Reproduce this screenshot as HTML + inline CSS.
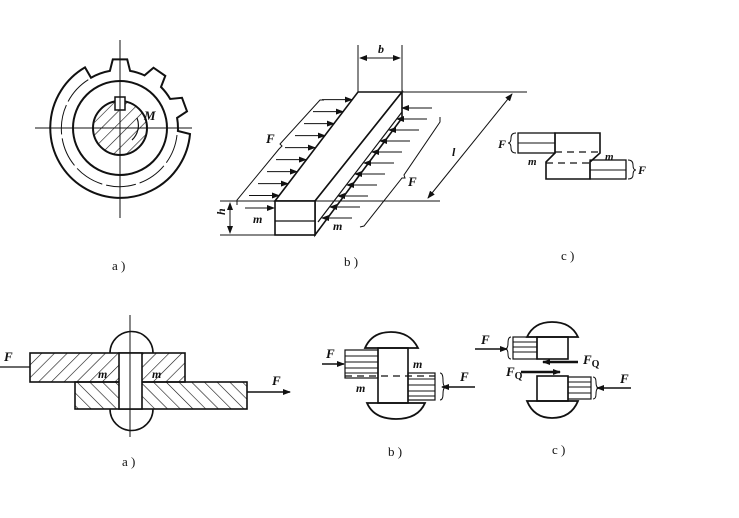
<!DOCTYPE html>
<html><head><meta charset="utf-8"><style>
html,body{margin:0;padding:0;background:#fff}
svg{display:block}
text{font-family:"Liberation Serif",serif;font-style:italic;font-weight:bold;fill:#111}
.c{font-style:normal;font-weight:normal;font-size:13px}
</style></head><body>
<svg width="739" height="518" viewBox="0 0 739 518" xmlns="http://www.w3.org/2000/svg">
<defs>
<pattern id="h1" width="9" height="9" patternUnits="userSpaceOnUse" patternTransform="rotate(45)"><line x1="0" y1="0" x2="0" y2="9" stroke="#111" stroke-width="1.2"/></pattern>
<pattern id="h2" width="9" height="9" patternUnits="userSpaceOnUse" patternTransform="rotate(-45)"><line x1="0" y1="0" x2="0" y2="9" stroke="#111" stroke-width="1.2"/></pattern>
<marker id="ar" markerWidth="8" markerHeight="6" refX="7" refY="3" orient="auto" markerUnits="userSpaceOnUse"><path d="M0,0 L8,3 L0,6z" fill="#111"/></marker>
<marker id="al" markerWidth="8" markerHeight="6" refX="1" refY="3" orient="auto" markerUnits="userSpaceOnUse"><path d="M8,0 L0,3 L8,6z" fill="#111"/></marker>
</defs>
<g stroke="#111" fill="none" stroke-width="1.6">
<!-- gear a) -->
<path d="M190,134 A70,70 0 1 1 85,67.4 L91,77.8 A58,58 0 0 1 109.9,70.9 L112.8,59.4 L127.2,59.4 L130.1,70.9 A58,58 0 0 1 144.5,75.4 L153.5,67.7 L165.3,75.9 L161,87 A58,58 0 0 1 170.2,99 L182,97.8 L187,111.3 L177.1,117.9 A58,58 0 0 1 177.9,131 Z" stroke-width="2"/>
<circle cx="120" cy="128" r="47" stroke-width="2"/>
<path d="M177,135 A58,58 0 1 1 93,77" stroke-width="1" stroke-dasharray="30 4"/>
<circle cx="120" cy="128" r="27" fill="url(#h1)" stroke-width="2"/>
<rect x="115" y="97" width="10" height="13" fill="#fff" stroke-width="1.5"/>
<line x1="35" y1="128" x2="192" y2="128" stroke-width="1"/>
<line x1="120" y1="40" x2="120" y2="218" stroke-width="1"/>
<path d="M137,118 A20,20 0 0 1 132,140" stroke-width="1.2"/>
</g>
<text x="144" y="120" font-size="13">M</text>
<text class="c" x="112" y="270">a )</text>

<g stroke="#111" fill="none" stroke-width="1.6">
<!-- key b) -->
<polygon points="275,201 315,201 402,92 358,92" fill="#fff"/>
<polygon points="315,201 315,235 402,118 402,92" fill="#fff"/>
<rect x="275" y="201" width="40" height="34" fill="#fff"/>
<line x1="275" y1="221" x2="315" y2="221" stroke-width="1.2"/>
<line x1="318" y1="222" x2="402" y2="112" stroke-width="1.2"/>
<line x1="220" y1="201" x2="440" y2="201" stroke-width="1"/>
<line x1="220" y1="235" x2="315" y2="235" stroke-width="1"/>
<line x1="402" y1="92" x2="527" y2="92" stroke-width="1"/>
<line x1="358" y1="92" x2="358" y2="45" stroke-width="1"/>
<line x1="402" y1="92" x2="402" y2="45" stroke-width="1"/>
<line x1="360" y1="58" x2="400" y2="58" stroke-width="1" marker-start="url(#al)" marker-end="url(#ar)"/>
<line x1="512" y1="94" x2="428" y2="198" stroke-width="1" marker-start="url(#al)" marker-end="url(#ar)"/>
<line x1="230" y1="203" x2="230" y2="233" stroke-width="1" marker-start="url(#al)" marker-end="url(#ar)"/>
<line x1="245" y1="208" x2="274" y2="208" stroke-width="1" marker-end="url(#ar)"/>
<!-- left arrows -->
<g stroke-width="1" marker-end="url(#ar)">
<line x1="249" y1="195.5" x2="279" y2="195.5"/>
<line x1="258" y1="183.6" x2="288" y2="183.6"/>
<line x1="267" y1="171.6" x2="297" y2="171.6"/>
<line x1="276" y1="159.6" x2="306" y2="159.6"/>
<line x1="285" y1="147.6" x2="315" y2="147.6"/>
<line x1="295" y1="135.6" x2="325" y2="135.6"/>
<line x1="304" y1="123.6" x2="334" y2="123.6"/>
<line x1="313" y1="111.6" x2="343" y2="111.6"/>
<line x1="322" y1="99.6" x2="352" y2="99.6"/>
</g>
<g stroke-width="1" marker-end="url(#ar)">
<line x1="352" y1="218" x2="322" y2="218"/>
<line x1="360" y1="207" x2="330" y2="207"/>
<line x1="368" y1="196" x2="338" y2="196"/>
<line x1="377" y1="185" x2="347" y2="185"/>
<line x1="385" y1="174" x2="355" y2="174"/>
<line x1="394" y1="163" x2="364" y2="163"/>
<line x1="402" y1="152" x2="372" y2="152"/>
<line x1="410" y1="141" x2="380" y2="141"/>
<line x1="419" y1="130" x2="389" y2="130"/>
<line x1="427" y1="119" x2="397" y2="119"/>
<line x1="432" y1="108" x2="402" y2="108"/>
</g>
<path d="M237,205 L237,200 L279,149 L282,146 L280,144 L320,100 L324,100" stroke-width="1"/>
<path d="M360,227 L364,226 L402,178 L405,178 L404,175 L440,122 L440,117" stroke-width="1"/>
</g>
<text x="378" y="53" font-size="12">b</text>
<text x="266" y="143" font-size="13">F</text>
<text x="408" y="186" font-size="13">F</text>
<text x="452" y="156" font-size="12" font-style="normal" font-weight="normal">l</text>
<text x="227" y="223" font-size="12" transform="rotate(-90 222 220)">h</text>
<text x="253" y="223" font-size="12">m</text>
<text x="333" y="230" font-size="12">m</text>
<text class="c" x="344" y="266">b )</text>

<g stroke="#111" fill="none" stroke-width="1.6">
<!-- c) top -->
<path d="M555,133 L600,133 L600,153 L590,162 L590,179 L546,179 L546,162 L555,153 Z"/>
<rect x="518" y="133" width="37" height="20" stroke-width="1.3"/>
<line x1="518" y1="143" x2="555" y2="143" stroke-width="1"/>
<rect x="590" y="160" width="36" height="19" stroke-width="1.3"/>
<line x1="590" y1="170" x2="626" y2="170" stroke-width="1"/>
<line x1="555" y1="152" x2="600" y2="152" stroke-dasharray="7 5" stroke-width="1.2"/>
<line x1="546" y1="163" x2="590" y2="163" stroke-dasharray="7 5" stroke-width="1.2"/>
<path d="M516,133 Q511,133 511,138 Q511,143 508,143 Q511,143 511,148 Q511,153 516,153" stroke-width="1"/>
<path d="M628,160 Q633,160 633,165 Q633,170 636,170 Q633,170 633,175 Q633,179 628,179" stroke-width="1"/>
</g>
<text x="498" y="148" font-size="12">F</text>
<text x="528" y="165" font-size="11">m</text>
<text x="605" y="160" font-size="11">m</text>
<text x="638" y="174" font-size="12">F</text>
<text class="c" x="561" y="260">c )</text>

<g stroke="#111" fill="none" stroke-width="1.6">
<!-- lower a) -->
<path d="M110,353 A21,21 0 0 1 153,353" fill="#fff"/>
<path d="M110,409 A21,21 0 0 0 153,409" fill="#fff"/>
<rect x="30" y="353" width="155" height="29" fill="url(#h1)"/>
<rect x="75" y="382" width="172" height="27" fill="url(#h2)"/>
<rect x="119" y="353" width="23" height="56" fill="#fff"/>
<line x1="130" y1="315" x2="130" y2="437" stroke-width="1"/>
<line x1="0" y1="367" x2="30" y2="367" stroke-width="1.2"/>
<line x1="247" y1="392" x2="290" y2="392" stroke-width="1.5" marker-end="url(#ar)"/>
</g>
<text x="4" y="361" font-size="13">F</text>
<text x="272" y="385" font-size="13">F</text>
<text x="98" y="378" font-size="12">m</text>
<text x="152" y="378" font-size="12">m</text>
<text class="c" x="122" y="466">a )</text>

<g stroke="#111" fill="none" stroke-width="1.6">
<!-- lower b) -->
<path d="M365,348 Q372,332 391,332 Q410,332 418,348 Z" stroke-width="1.8"/>
<path d="M367,403 Q374,419 396,419 Q418,419 425,403 Z" stroke-width="1.8"/>
<rect x="378" y="348" width="30" height="55"/>
<rect x="345" y="350" width="33" height="28" stroke-width="1.2"/>
<g stroke-width="1"><line x1="345" y1="356" x2="378" y2="356"/><line x1="345" y1="362" x2="378" y2="362"/><line x1="345" y1="368" x2="378" y2="368"/><line x1="345" y1="373" x2="378" y2="373"/></g>
<rect x="408" y="373" width="27" height="27" stroke-width="1.2"/>
<g stroke-width="1"><line x1="408" y1="379" x2="435" y2="379"/><line x1="408" y1="385" x2="435" y2="385"/><line x1="408" y1="391" x2="435" y2="391"/><line x1="408" y1="396" x2="435" y2="396"/></g>
<line x1="345" y1="376" x2="435" y2="376" stroke-dasharray="7 5" stroke-width="1.2"/>
<line x1="322" y1="364" x2="344" y2="364" stroke-width="1.5" marker-end="url(#ar)"/>
<line x1="475" y1="387" x2="442" y2="387" stroke-width="1.5" marker-end="url(#ar)"/>
<path d="M440,373 Q443,373 443,380 Q443,387 446,387 Q443,387 443,394 Q443,400 440,400" stroke-width="1"/>
<!-- lower c) -->
<path d="M527,337 Q534,322 552,322 Q571,322 578,337 Z" stroke-width="1.8"/>
<rect x="537" y="337" width="31" height="22"/>
<rect x="513" y="337" width="24" height="22" stroke-width="1.2"/>
<g stroke-width="1"><line x1="513" y1="342" x2="537" y2="342"/><line x1="513" y1="347" x2="537" y2="347"/><line x1="513" y1="352" x2="537" y2="352"/></g>
<path d="M527,401 Q534,418 552,418 Q571,418 578,401 Z" stroke-width="1.8"/>
<rect x="537" y="376" width="31" height="25"/>
<rect x="568" y="377" width="23" height="22" stroke-width="1.2"/>
<g stroke-width="1"><line x1="568" y1="382" x2="591" y2="382"/><line x1="568" y1="387" x2="591" y2="387"/><line x1="568" y1="393" x2="591" y2="393"/></g>
<line x1="578" y1="362" x2="543" y2="362" stroke-width="2.5" marker-end="url(#ar)"/>
<line x1="521" y1="372" x2="560" y2="372" stroke-width="2.5" marker-end="url(#ar)"/>
<line x1="475" y1="349" x2="507" y2="349" stroke-width="1.5" marker-end="url(#ar)"/>
<line x1="631" y1="388" x2="597" y2="388" stroke-width="1.5" marker-end="url(#ar)"/>
<path d="M511,337 Q508,337 508,343 Q508,349 505,349 Q508,349 508,354 Q508,359 511,359" stroke-width="1"/>
<path d="M593,377 Q596,377 596,382 Q596,388 599,388 Q596,388 596,394 Q596,399 593,399" stroke-width="1"/>
</g>
<text x="326" y="358" font-size="13">F</text>
<text x="460" y="381" font-size="13">F</text>
<text x="356" y="392" font-size="12">m</text>
<text x="413" y="368" font-size="12">m</text>
<text class="c" x="388" y="456">b )</text>
<text x="481" y="344" font-size="13">F</text>
<text x="583" y="364" font-size="13">F<tspan font-size="10" dy="3" font-style="normal">Q</tspan></text>
<text x="506" y="376" font-size="13">F<tspan font-size="10" dy="3" font-style="normal">Q</tspan></text>
<text x="620" y="383" font-size="13">F</text>
<text class="c" x="552" y="454">c )</text>
</svg>
</body></html>
